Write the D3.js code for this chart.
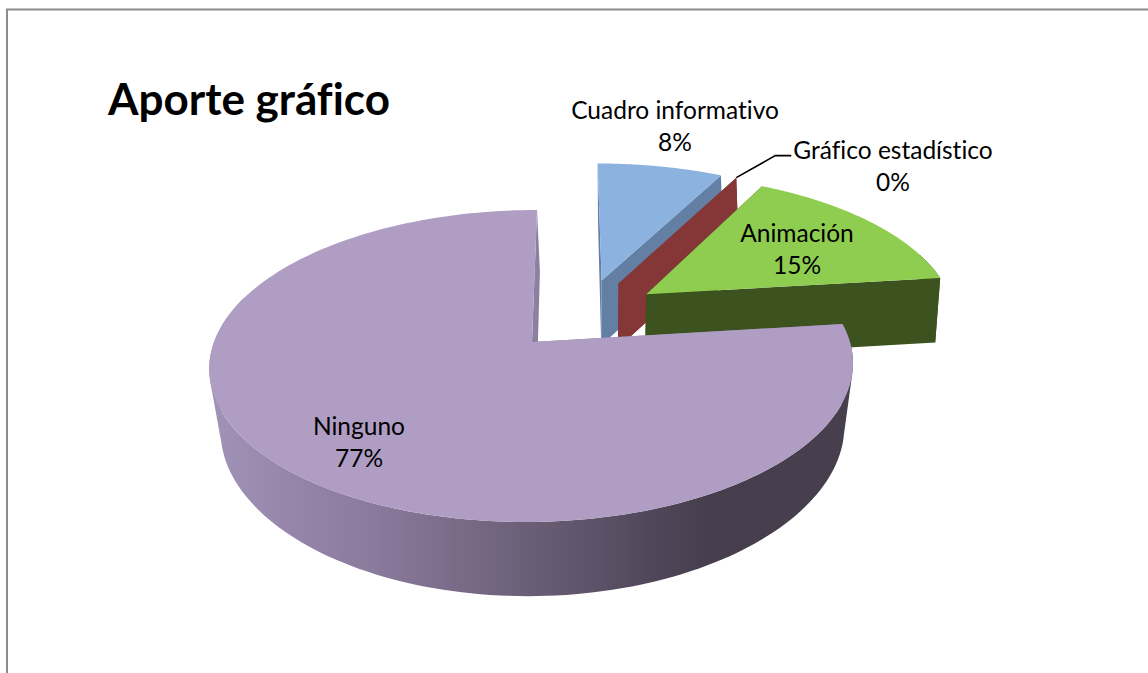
<!DOCTYPE html>
<html><head><meta charset="utf-8">
<script src="https://cdn.jsdelivr.net/npm/d3@7"></script>
<style>html,body{margin:0;padding:0;background:#fff;overflow:hidden}svg{display:block}text{font-variant-ligatures:none}</style>
</head><body><svg id="c" width="1148" height="673"></svg>
<script>
const categories = ["Cuadro informativo","Gráfico estadístico","Animación","Ninguno"];
const values = [1,0,2,10];
const title = "Aporte gráfico";

const topColors  = ["#8cb2e0","#8a3a3a","#8fcd50","#af9dc4"];
const wallColors = ["#637fa4","#853636","#3c521f","url(#wallGrad)"];
// label centres, one per category: [x, y of first line]
const labelAt = [[675,110],[893,150],[797,233],[359,426]];

const svg = d3.select("#c");
const font = "Lato, 'Open Sans', sans-serif";

// perspective camera for the tilted disc
const cam = {x0:532, y0:342, A:318, B:152.3, k:0.1538, shear:-5.8, vx:570, thick:67, sy:1.04};
const explode = 0.25;
const pie = d3.pie().sort(null).value(d=>d).startAngle(0).endAngle(2*Math.PI);
const arcs = pie(values);

const last = arcs[arcs.length-1];
const bis = a => (a.startAngle+a.endAngle)/2;
const centre = [-explode*Math.sin(bis(last)), explode*Math.cos(bis(last))];

function project(x,y,bottom){
  const w = 1-cam.k*y;
  const X = cam.x0+(cam.A*x+cam.shear*y)/w;
  const Y = cam.B*y/w;
  if(!bottom) return [X, cam.y0+Y];
  const s = 0.973-0.03*y;
  return [cam.vx+(X-cam.vx)*s, cam.y0+cam.thick+Y*cam.sy];
}
function apex(a){
  const b=bis(a);
  return [centre[0]+explode*Math.sin(b), centre[1]-explode*Math.cos(b)];
}
function rim(a,t){
  const o=apex(a);
  return [o[0]+Math.sin(t), o[1]-Math.cos(t)];
}
const line = d3.line();
const defs = svg.append("defs");
const grad = defs.append("linearGradient").attr("id","wallGrad")
  .attr("gradientUnits","userSpaceOnUse").attr("x1",215).attr("x2",850).attr("y1",0).attr("y2",0);
[[0,"#a091b6"],[0.25,"#8a7a9c"],[0.5,"#6a5e76"],[0.7,"#4f4558"],[0.78,"#463e4c"],[1,"#473f4e"]]
  .forEach(([o,c])=>grad.append("stop").attr("offset",o).attr("stop-color",c));

svg.append("rect").attr("x",7).attr("y",9.5).attr("width",1160).attr("height",680)
  .attr("fill","#fff").attr("stroke","#8c8c8c").attr("stroke-width",2);

const g = svg.append("g");
arcs.forEach((a,i)=>{
  const ts = d3.range(0,181).map(j=>a.startAngle+(a.endAngle-a.startAngle)*j/180);
  const o = apex(a);
  const topRim = ts.map(t=>{const p=rim(a,t);return project(p[0],p[1],false);});
  const botRim = ts.map(t=>{const p=rim(a,t);return project(p[0],p[1],true);});
  const oT = project(o[0],o[1],false), oB = project(o[0],o[1],true);
  const n = ts.length-1;
  const s = g.append("g").attr("class","slice").attr("data-cat",categories[i]);
  // radial walls
  const wallFill = i===3 ? "#8d7fa0" : wallColors[i];
  const lean = i===3 ? 3 : 0;
  s.append("path").attr("d",line([oT,topRim[0],botRim[0],oB])+"Z").attr("fill",wallFill);
  s.append("path").attr("d",line([oT,topRim[n],[botRim[n][0]+lean,botRim[n][1]],[oB[0]+lean,oB[1]]])+"Z").attr("fill",wallFill);
  // outer wall: one compound path of consistently wound facets, only the part facing the viewer
  let d = "";
  for(let j=0;j<n;j++){
    if(Math.cos(ts[j])>0.3) continue;
    const q=[topRim[j],topRim[j+1],botRim[j+1],botRim[j]];
    if(d3.polygonArea(q)<0) q.reverse();
    d += line(q)+"Z";
  }
  if(d) s.append("path").attr("d",d).attr("fill",wallColors[i]);
  // top face
  s.append("path").attr("d",line([oT].concat(topRim))+"Z").attr("fill",topColors[i]);
});

// leader line for the zero slice
const zero = arcs[1];
const zp = rim(zero,zero.startAngle);
const zt = project(zp[0],zp[1],false);
svg.append("path").attr("d",line([zt,[zt[0]+39,zt[1]-22],[zt[0]+55,zt[1]-22]]))
  .attr("fill","none").attr("stroke","#000").attr("stroke-width",1.6);

const pct = d3.format(".0%");
const total = d3.sum(values);
categories.forEach((c,i)=>{
  const t = svg.append("text").attr("text-anchor","middle").attr("font-family",font)
    .attr("font-size",24.5).attr("fill","#000");
  t.append("tspan").attr("x",labelAt[i][0]).attr("y",labelAt[i][1]+9).text(c);
  t.append("tspan").attr("x",labelAt[i][0]).attr("y",labelAt[i][1]+41).text(pct(values[i]/total));
});
svg.append("text").attr("x",108).attr("y",115).attr("font-family",font).attr("font-weight",700)
  .attr("font-size",44).attr("fill","#000").text(title);
</script></body></html>
